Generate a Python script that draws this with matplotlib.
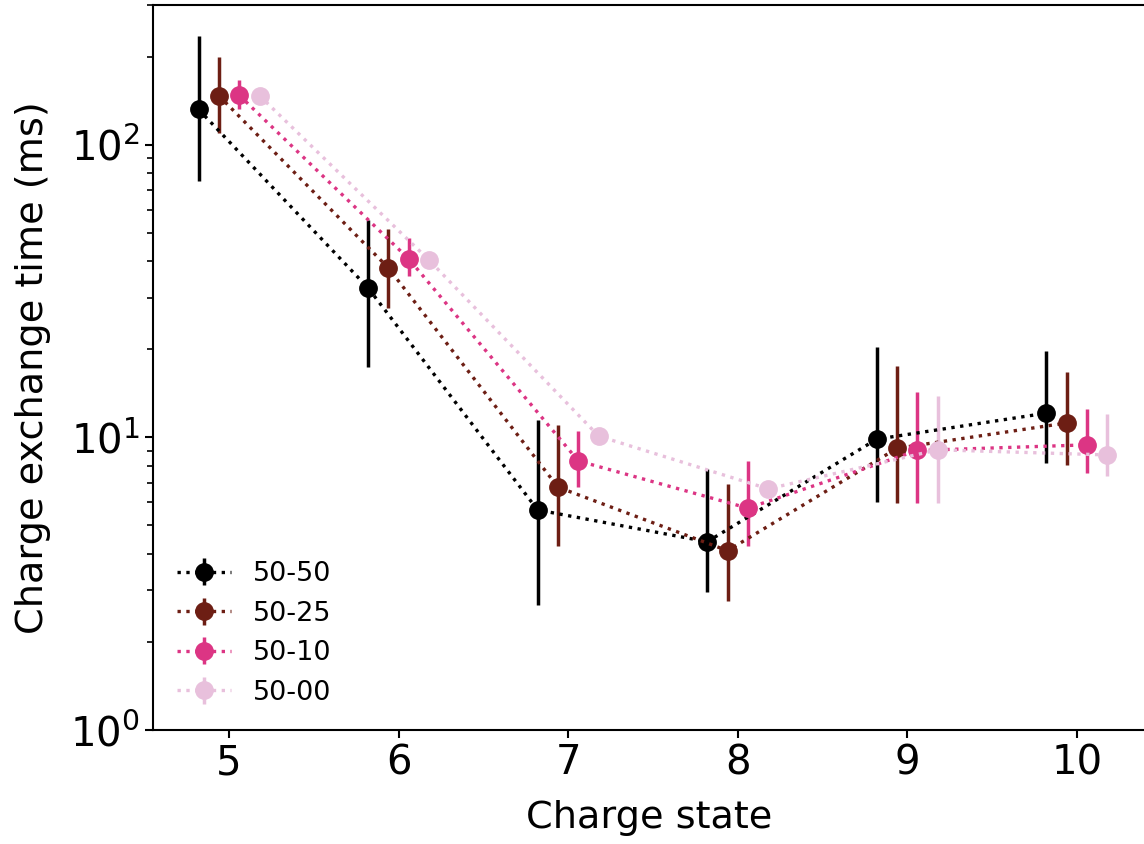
import numpy as np
import matplotlib
matplotlib.use('Agg')
import matplotlib.pyplot as plt

# Charge states and series
charge = np.array([5, 6, 7, 8, 9, 10])
labels = ['50-50', '50-25', '50-10', '50-00']
colors = ['#000000', '#6d1e14', '#dc3584', '#e8c0dc']
offsets = [-0.18, -0.06, 0.06, 0.18]

t_5050 = [132, 32.4, 5.65, 4.40, 9.86, 12.1]
lo_5050 = [75, 17.4, 2.67, 2.97, 6.03, 8.20]
hi_5050 = [236, 55.4, 11.5, 7.79, 20.3, 19.8]

t_5025 = [147, 37.9, 6.76, 4.10, 9.18, 11.2]
lo_5025 = [110, 27.7, 4.26, 2.75, 5.96, 8.05]
hi_5025 = [200, 51.5, 11.0, 6.94, 17.6, 16.7]

t_5010 = [147.5, 40.7, 8.31, 5.73, 9.02, 9.43]
lo_5010 = [132, 35.5, 6.76, 4.26, 5.98, 7.58]
hi_5010 = [167, 48.0, 10.5, 8.31, 14.3, 12.5]

t_5000 = [147, 40.3, 10.1, 6.67, 9.07, 8.71]
lo_5000 = [142, 39.0, 9.8, 6.45, 5.98, 7.40]
hi_5000 = [152, 41.6, 10.4, 6.90, 13.9, 12.0]

series = [(t_5050, lo_5050, hi_5050),
          (t_5025, lo_5025, hi_5025),
          (t_5010, lo_5010, hi_5010),
          (t_5000, lo_5000, hi_5000)]

fig = plt.figure(figsize=(11.44, 8.44), dpi=100)
ax = fig.add_axes([0.1337, 0.135, 0.8673, 0.859])

for (t, lo, hi), lab, c, off in zip(series, labels, colors, offsets):
    t = np.array(t)
    yerr = [t - np.array(lo), np.array(hi) - t]
    ax.errorbar(charge + off, t, yerr=yerr, fmt='o', ls=':', color=c,
                ms=12.5, lw=2.4, elinewidth=2.5, capsize=0, label=lab)

ax.set_yscale('log')
ax.set_ylim(1, 300)
ax.set_xlim(4.551, 10.403)
ax.set_xticks(charge)
ax.tick_params(axis='both', labelsize=29, width=1.5, length=6)
ax.tick_params(axis='y', which='minor', width=1.2, length=4)
for s in ax.spines.values():
    s.set_linewidth(1.5)

ax.set_xlabel('Charge state', fontsize=27.5, labelpad=12)
ax.set_ylabel('Charge exchange time (ms)', fontsize=27.5, labelpad=14)
ax.legend(loc='lower left', frameon=False, fontsize=19.5)

fig.savefig('out.png', dpi=100)
